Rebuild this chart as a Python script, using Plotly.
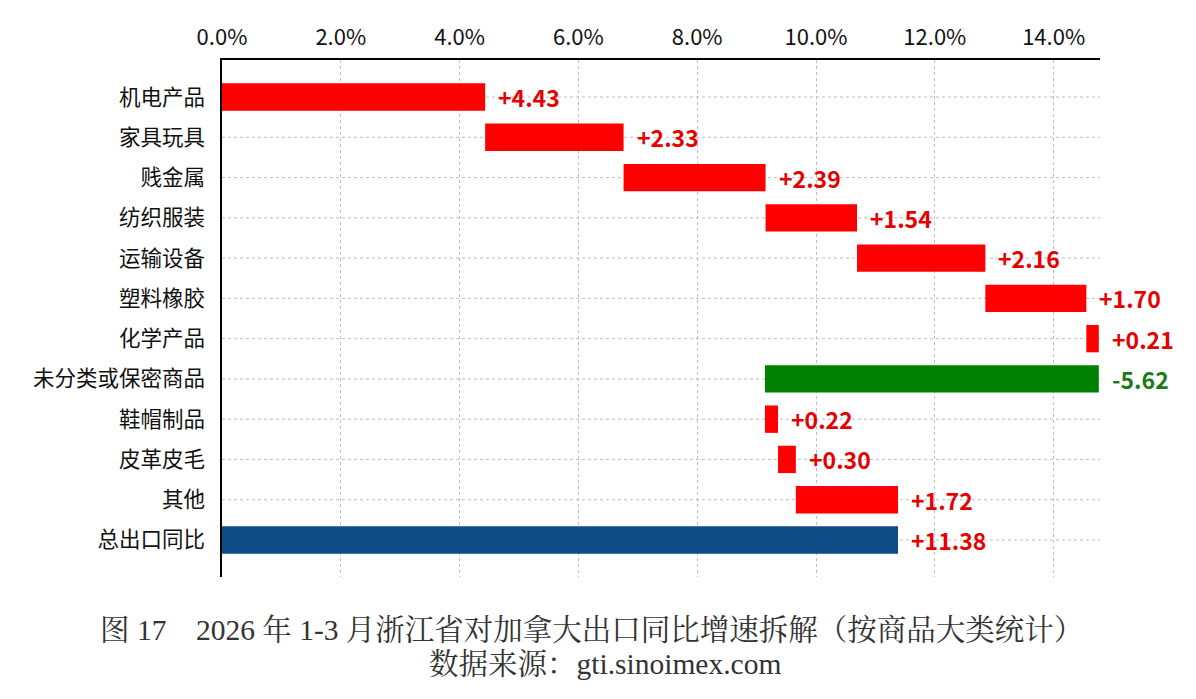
import plotly.graph_objects as go

categories = ["机电产品", "家具玩具", "贱金属", "纺织服装", "运输设备", "塑料橡胶",
              "化学产品", "未分类或保密商品", "鞋帽制品", "皮革皮毛", "其他", "总出口同比"]
changes = [4.43, 2.33, 2.39, 1.54, 2.16, 1.70, 0.21, -5.62, 0.22, 0.30, 1.72]
total = 11.38
x_ticks = [0, 2, 4, 6, 8, 10, 12, 14]
x_tick_labels = ["0.0%", "2.0%", "4.0%", "6.0%", "8.0%", "10.0%", "12.0%", "14.0%"]

RED = "#FF0000"
GREEN = "#008000"
BLUE = "#0F4C86"
FONT = "Noto Sans CJK SC"

bases, lengths, colors, labels, label_colors = [], [], [], [], []
cum = 0.0
for v in changes:
    start = cum
    end = cum + v
    bases.append(min(start, end))
    lengths.append(abs(v))
    colors.append(RED if v >= 0 else GREEN)
    labels.append(f"{v:+.2f}")
    label_colors.append("#E60000" if v >= 0 else "#1A7A1A")
    cum = end
bases.append(0)
lengths.append(total)
colors.append(BLUE)
labels.append(f"+{total:.2f}")
label_colors.append("#E60000")

ypos = list(range(len(categories)))

fig = go.Figure()
fig.add_trace(go.Bar(
    y=ypos, x=lengths, base=bases, orientation="h",
    marker=dict(color=colors, line=dict(width=0)),
    width=0.68, hoverinfo="skip", showlegend=False,
))

for i in ypos:
    fig.add_annotation(
        x=bases[i] + lengths[i], y=i, text=f"<b>{labels[i]}</b>",
        showarrow=False, xanchor="left", yanchor="middle", xshift=11,
        font=dict(family=FONT, size=23, color=label_colors[i]),
    )

XMAX = 14.78
YMIN, YMAX = -0.92, len(categories) - 1 + 0.92

for i in ypos:
    fig.add_shape(type="line", xref="x", yref="y", x0=0, x1=XMAX, y0=i, y1=i,
                  line=dict(color="#BDBDBD", width=1, dash="dot"), layer="below")

fig.update_xaxes(
    side="top", range=[0, XMAX], tickvals=x_ticks, ticktext=x_tick_labels,
    showgrid=True, gridcolor="#BDBDBD", griddash="dot", gridwidth=1,
    showline=True, linecolor="#000000", linewidth=1.5, ticks="",
    ticklabelstandoff=4,
    tickfont=dict(family=FONT, size=22, color="#111111"), zeroline=False,
)
fig.update_yaxes(
    range=[YMAX, YMIN], tickvals=ypos, ticktext=categories,
    showgrid=False, showline=True, linecolor="#000000", linewidth=1.5, ticks="",
    ticklabelstandoff=11,
    tickfont=dict(family=FONT, size=21.5, color="#111111"), zeroline=False,
)

cap_font = dict(family="Liberation Serif, Noto Serif CJK SC, Noto Sans CJK SC", size=29.5, color="#333333")
fig.add_annotation(
    text="图 17　2026 年 1-3 月浙江省对加拿大出口同比增速拆解（按商品大类统计）",
    xref="paper", yref="paper", x=(591 - 222) / (1100 - 222), y=-(630 - 577) / (577 - 60),
    xanchor="center", yanchor="middle", showarrow=False, font=cap_font,
)
fig.add_annotation(
    text="数据来源：gti.sinoimex.com",
    xref="paper", yref="paper", x=(605 - 222) / (1100 - 222), y=-(664 - 577) / (577 - 60),
    xanchor="center", yanchor="middle", showarrow=False, font=cap_font,
)

fig.update_layout(
    width=1196, height=699,
    margin=dict(l=222, r=96, t=60, b=122),
    paper_bgcolor="white", plot_bgcolor="white",
    bargap=0.3,
)

fig.write_html("out.html")
